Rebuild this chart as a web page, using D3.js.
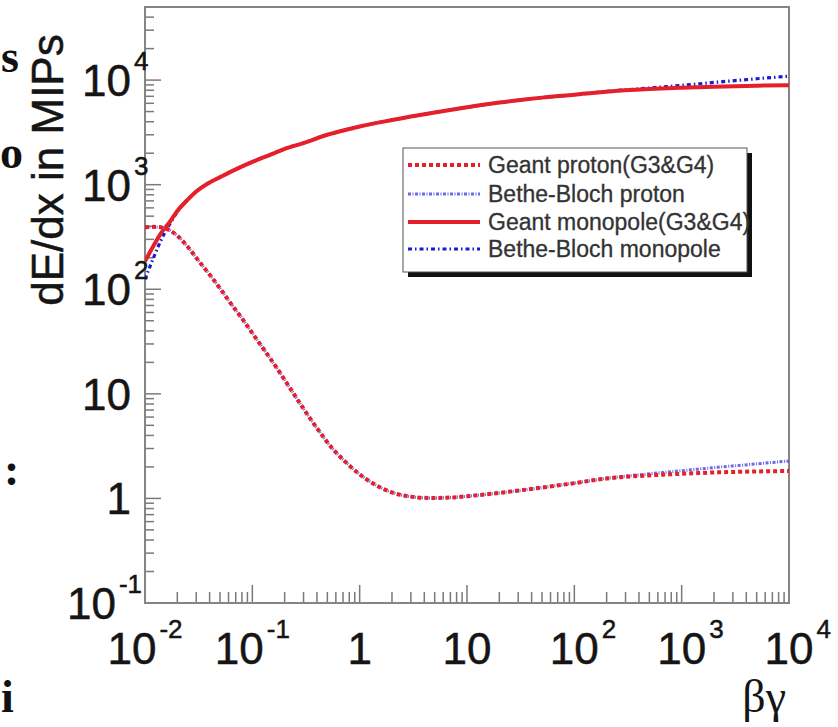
<!DOCTYPE html>
<html><head><meta charset="utf-8">
<script src="https://cdn.jsdelivr.net/npm/d3@7"></script>
<style>body{margin:0;background:#fff}svg{display:block}</style>
</head><body><svg id="c" width="838" height="727"></svg>
<script>
// ---------- data ----------
const bgProton = [0.01, 0.012, 0.014, 0.017, 0.02, 0.025, 0.03, 0.04, 0.05, 0.065, 0.082, 0.1, 0.13, 0.17, 0.22, 0.3, 0.4, 0.55, 0.75, 1, 1.4, 2, 3, 4.5, 7, 10, 20, 50, 100, 200, 500, 1000, 2000, 5000, 10000];
const geantProton = [392, 395, 392, 366, 325, 255, 200, 138, 102, 70, 51, 38, 26, 17.5, 11.7, 7.2, 4.7, 3.05, 2.2, 1.7, 1.35, 1.14, 1.04, 1.01, 1.02, 1.05, 1.13, 1.27, 1.4, 1.55, 1.66, 1.72, 1.77, 1.81, 1.83];
const betheProton = [392, 395, 392, 366, 325, 255, 200, 138, 102, 70, 51, 38, 26, 17.5, 11.7, 7.2, 4.7, 3.05, 2.2, 1.7, 1.35, 1.14, 1.04, 1.01, 1.02, 1.05, 1.13, 1.27, 1.4, 1.56, 1.72, 1.84, 1.97, 2.14, 2.28];
const bgMonopole = [0.01, 0.012, 0.014, 0.017, 0.02, 0.025, 0.03, 0.04, 0.05, 0.07, 0.1, 0.15, 0.2, 0.3, 0.5, 0.75, 1, 2, 5, 10, 20, 50, 100, 200, 500, 1000, 2000, 5000, 10000];
const geantMonopole = [185, 260, 340, 440, 560, 720, 860, 1050, 1180, 1400, 1650, 1950, 2200, 2500, 3000, 3350, 3600, 4150, 4900, 5500, 6100, 6800, 7250, 7750, 8200, 8450, 8650, 8850, 8950];
const betheMonopole = [125, 200, 290, 420, 550, 720, 860, 1050, 1180, 1400, 1650, 1950, 2200, 2500, 3000, 3350, 3600, 4150, 4900, 5500, 6100, 6800, 7250, 7800, 8400, 8900, 9500, 10300, 10900];
const xTickExps = [-2, -1, 0, 1, 2, 3, 4];
const yTickExps = [-1, 0, 1, 2, 3, 4];
const seriesNames = ["Geant proton(G3&G4)", "Bethe-Bloch proton", "Geant monopole(G3&G4)", "Bethe-Bloch monopole"];
const yTitle = "dE/dx in MIPs";
const xTitle = "βγ";
const marginFragments = ["s", "o", ":", "i"];

// ---------- layout ----------
const svg = d3.select("#c");
const L = 145, R = 789, T = 7, B = 603;
const x = d3.scaleLog().domain([0.01, 1e4]).range([L, R]);
const y = d3.scaleLog().domain([0.1, 5e4]).range([B, T]);
const sans = "'Liberation Sans', Arial, Helvetica, sans-serif";
const serif = "'Liberation Serif', 'Times New Roman', serif";
const ink = "#151515";

svg.append("clipPath").attr("id", "clip").append("rect")
  .attr("x", L).attr("y", T).attr("width", R - L).attr("height", B - T);

// ticks
const minor = [];
for (let e = -2; e < 4; e++) for (let k = 2; k <= 9; k++) minor.push(k * Math.pow(10, e));
const yMinor = [];
for (let e = -1; e < 5; e++) for (let k = 2; k <= 9; k++) { const v = k * Math.pow(10, e); if (v < 5e4) yMinor.push(v); }

const tg = svg.append("g").attr("stroke", "#7a7a7a").attr("stroke-width", 1.5);
minor.forEach(v => tg.append("line").attr("x1", x(v)).attr("x2", x(v)).attr("y1", B).attr("y2", B - 11));
xTickExps.forEach(e => tg.append("line").attr("x1", x(Math.pow(10, e))).attr("x2", x(Math.pow(10, e))).attr("y1", B).attr("y2", B - 18));
yMinor.forEach(v => tg.append("line").attr("y1", y(v)).attr("y2", y(v)).attr("x1", L).attr("x2", L + 9));
yTickExps.forEach(e => tg.append("line").attr("y1", y(Math.pow(10, e))).attr("y2", y(Math.pow(10, e))).attr("x1", L).attr("x2", L + 16));

// frame
svg.append("rect").attr("x", L).attr("y", T).attr("width", R - L).attr("height", B - T)
  .attr("fill", "none").attr("stroke", "#858585").attr("stroke-width", 2);

// curves
const line = d3.line().x(d => x(d[0])).y(d => y(d[1])).curve(d3.curveMonotoneX);
const cg = svg.append("g").attr("clip-path", "url(#clip)").attr("fill", "none");
const styles = [
  {bg: bgMonopole, v: betheMonopole, color: "#1a1ad0", w: 3.2, dash: "4,3,1.5,3"},
  {bg: bgMonopole, v: geantMonopole, color: "#e5202a", w: 4, dash: null},
  {bg: bgProton, v: betheProton, color: "#6a6ae6", w: 3, dash: "3,1.5,1,1.5"},
  {bg: bgProton, v: geantProton, color: "#e5202a", w: 4, dash: "4,3"}
];
styles.forEach(s => {
  cg.append("path").datum(s.bg.map((b, i) => [b, s.v[i]]))
    .attr("d", line).attr("stroke", s.color).attr("stroke-width", s.w)
    .attr("stroke-dasharray", s.dash);
});

function txt(fs, fam) {
  return svg.append("text").attr("font-family", fam || sans).attr("font-size", fs)
    .attr("fill", ink).attr("stroke", ink).attr("stroke-width", 0.5);
}

// tick labels
function lab(e) { return e === 0 ? {b: "1", s: ""} : e === 1 ? {b: "10", s: ""} : {b: "10", s: String(e)}; }
xTickExps.forEach(e => {
  const l = lab(e), px = x(Math.pow(10, e));
  const bt = txt(44).attr("y", 664).text(l.b);
  const wb = bt.node().getComputedTextLength();
  let st = null, ws = 0;
  if (l.s) { st = txt(26).attr("y", 638).text(l.s); ws = st.node().getComputedTextLength(); }
  const bx = e < 0 ? px - (wb + 3 + ws) / 2 : px - wb / 2;
  bt.attr("x", bx);
  if (st) st.attr("x", bx + wb + 3);
});
yTickExps.forEach(e => {
  const l = lab(e), py = y(Math.pow(10, e));
  const bt = txt(44).attr("y", py + 16).text(l.b);
  const wb = bt.node().getComputedTextLength();
  let st = null, ws = 0;
  if (l.s) { st = txt(26).attr("y", py - 10).text(l.s); ws = st.node().getComputedTextLength(); }
  const bx = e < 0 ? 142 - (wb + 3 + ws) : 131 - wb;
  bt.attr("x", bx);
  if (st) st.attr("x", bx + wb + 3);
});

// axis titles
txt(44).attr("transform", "translate(63,170) rotate(-90)").attr("text-anchor", "middle").text(yTitle);
txt(46, serif).attr("stroke-width", 0).attr("x", 786).attr("y", 712).attr("text-anchor", "end").text(xTitle);

// legend
const lx = 403, ly = 148, lw = 344, lh = 124;
svg.append("rect").attr("x", lx + 5).attr("y", ly + 5).attr("width", lw).attr("height", lh).attr("fill", "#111");
svg.append("rect").attr("x", lx).attr("y", ly).attr("width", lw).attr("height", lh)
  .attr("fill", "#fff").attr("stroke", "#555").attr("stroke-width", 1);
const legOrder = [3, 2, 1, 0];
const rowsY = [165, 194, 222, 249];
legOrder.forEach((si, i) => {
  const s = styles[si];
  svg.append("line").attr("x1", 408).attr("x2", 480).attr("y1", rowsY[i]).attr("y2", rowsY[i])
    .attr("stroke", s.color).attr("stroke-width", s.w).attr("stroke-dasharray", s.dash);
  svg.append("text").attr("x", 488).attr("y", rowsY[i]).attr("dy", "0.36em")
    .attr("font-family", sans).attr("font-size", 23).attr("fill", "#333")
    .attr("stroke", "#333").attr("stroke-width", 0.3).text(seriesNames[i]);
});

// text fragments at the left edge of the original picture
const fragPos = [[1, 72], [0, 168], [4, 485], [1, 712]];
marginFragments.forEach((t, i) => {
  svg.append("text").attr("x", fragPos[i][0]).attr("y", fragPos[i][1])
    .attr("font-family", serif).attr("font-weight", "bold").attr("font-size", 46)
    .attr("fill", "#111").text(t);
});
</script></body></html>
